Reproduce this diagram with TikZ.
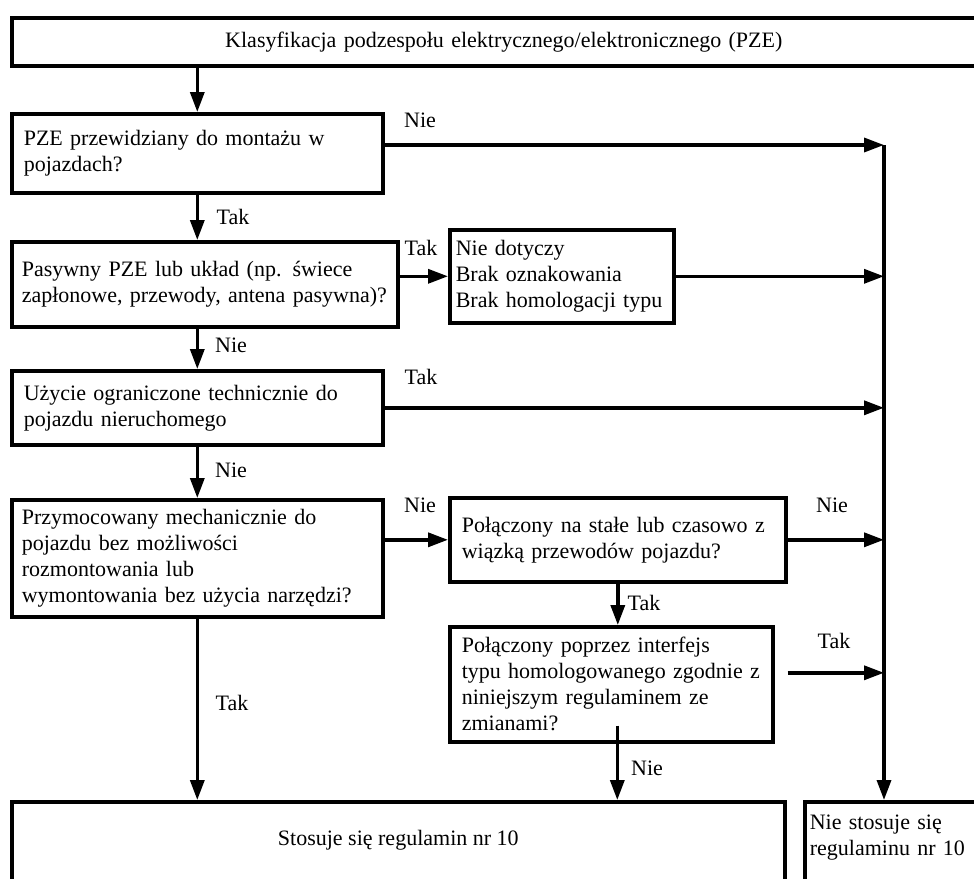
\documentclass[tikz,border=0pt]{standalone}
\usepackage{fontspec}
\setmainfont{Liberation Serif}
\usepackage{tikz}
\usetikzlibrary{arrows.meta}
\tikzset{
    block/.style={draw, line width=1.8pt, rectangle, anchor=north west, align=left, inner xsep=6pt, inner ysep=3pt, font=\fontsize{11}{13}\selectfont},
    flow/.style={-{Triangle[length=10pt, width=7pt]}, line width=1.7pt},
    answer/.style={inner sep=0pt, font=\fontsize{11}{13}\selectfont}
}

\begin{document}
\begin{tikzpicture}[x=0.5pt, y=-0.5pt]
    \useasboundingbox (0,0) rectangle (974,878);
    \clip (0,0) rectangle (974,878);

    \node[block, align=center, text width=480pt, minimum height=24pt] (klas) at (10,16) {Klasyfikacja podzespołu elektrycznego/elektronicznego (PZE)};
    \node[block, text width=173.5pt, minimum height=39.5pt] (montaz) at (10,112) {PZE przewidziany do montażu w\\pojazdach?};
    \node[block, inner xsep=5pt, text width=183pt, minimum height=42.5pt] (pasywny) at (10,240) {Pasywny PZE lub układ (np. świece\\zapłonowe, przewody, antena pasywna)?};
    \node[block, inner xsep=3pt, text width=106pt, minimum height=46.5pt] (nd) at (448,228) {Nie dotyczy\\Brak oznakowania\\Brak homologacji typu};
    \node[block, text width=173.5pt, minimum height=37pt] (uzycie) at (10,369) {Użycie ograniczone technicznie do\\pojazdu nieruchomego};
    \node[block, inner xsep=5pt, text width=175.5pt, minimum height=58.5pt] (mocow) at (10,498) {Przymocowany mechanicznie do\\pojazdu bez możliwości\\rozmontowania lub\\wymontowania bez użycia narzędzi?};
    \node[block, text width=156pt, minimum height=42pt] (wiazka) at (448,496) {Połączony na stałe lub czasowo z\\wiązką przewodów pojazdu?};
    \node[block, text width=149.5pt, minimum height=57.5pt] (interf) at (448,625) {Połączony poprzez interfejs\\typu homologowanego zgodnie z\\niniejszym regulaminem ze\\zmianami?};
    \node[block, align=center, minimum width=386.5pt, text height=19pt, text depth=40pt] (stosuje) at (10,800) {Stosuje się regulamin nr 10};
    \node[block, inner xsep=2.5pt, text width=95pt, text height=11pt, text depth=47pt] (niestos) at (803,800) {Nie stosuje się\\regulaminu nr 10};

    \coordinate (rail) at (884,145);
    \coordinate (tak2) at ([xshift=6.5pt,yshift=5.75pt]interf.east);
    \coordinate (nie3) at ([xshift=3pt,yshift=9pt]interf.south);

    \draw[flow] (klas.south -| montaz.north) -- (montaz.north);
    \draw[flow] (montaz.east |- rail) -- (rail);
    \draw[flow] (montaz.south) -- (montaz.south |- pasywny.north);
    \draw[flow] (pasywny.east |- nd.west) -- (nd.west);
    \draw[flow] (nd.east) -- (nd.east -| rail);
    \draw[flow] (pasywny.south -| uzycie.north) -- (uzycie.north);
    \draw[flow] (uzycie.east) -- (uzycie.east -| rail);
    \draw[flow] (uzycie.south) -- (uzycie.south |- mocow.north);
    \draw[flow] (mocow.east |- wiazka.west) -- (wiazka.west);
    \draw[flow] (wiazka.east) -- (wiazka.east -| rail);
    \draw[flow] (wiazka.south) -- (wiazka.south |- interf.north);
    \draw[flow] (tak2) -- (tak2 -| rail);
    \draw[flow] (nie3) -- (nie3 |- stosuje.north);
    \draw[flow] (mocow.south) -- (mocow.south |- stosuje.north);
    \draw[flow] (rail) -- (rail |- niestos.north);

    \node[answer] (nie1) at (420,120) {Nie};
    \node[answer] (tak1) at (233,217) {Tak};
    \node[answer] (tak3) at (421,248) {Tak};
    \node[answer] (nie2) at (231,345) {Nie};
    \node[answer] (tak4) at (421,377) {Tak};
    \node[answer] (nie4) at (231,470) {Nie};
    \node[answer] (nie5) at (420,505) {Nie};
    \node[answer] (tak5) at (232,703) {Tak};
    \node[answer] (nie6) at (832,505) {Nie};
    \node[answer] (tak6) at (644,603) {Tak};
    \node[answer] (tak7) at (834,641) {Tak};
    \node[answer] (nie7) at (647,768) {Nie};
\end{tikzpicture}
\end{document}
